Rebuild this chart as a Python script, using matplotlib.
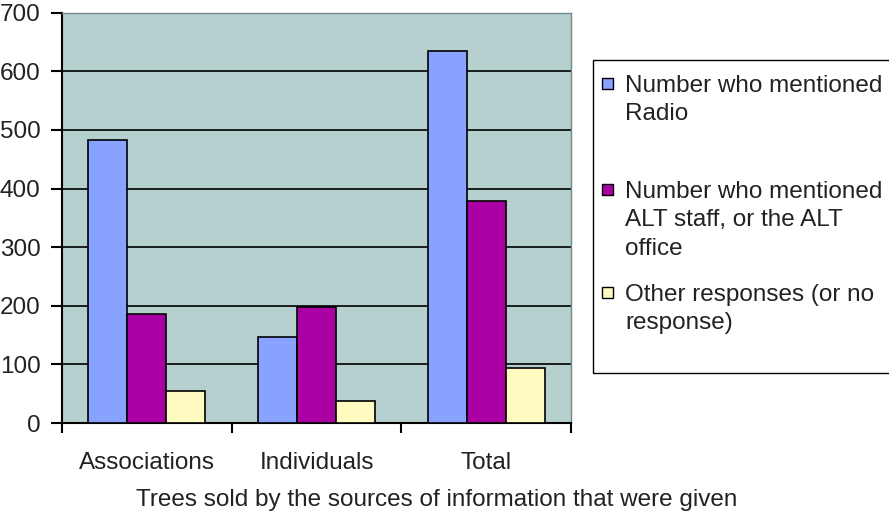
import matplotlib
matplotlib.use("Agg")
import matplotlib.pyplot as plt
from matplotlib.patches import Rectangle
import numpy as np

categories = ["Associations", "Individuals", "Total"]
series_names = ["Number who mentioned\nRadio",
                "Number who mentioned\nALT staff, or the ALT\noffice",
                "Other responses (or no\nresponse)"]
radio = [483, 147, 634]
alt_staff = [186, 198, 378]
other = [55, 37, 93]
yticks = [0, 100, 200, 300, 400, 500, 600, 700]
xlabel = "Trees sold by the sources of information that were given"

colors = ["#87A3FF", "#AA00A3", "#FFFABF"]
series = [radio, alt_staff, other]

plt.rcParams['font.family'] = ['Liberation Sans', 'DejaVu Sans']
FS = 17.5
TC = "#222222"

fig = plt.figure(figsize=(8.89, 5.11), dpi=100)
ax = fig.add_axes([62/889, 1-423/511, (571-62)/889, (423-12.7)/511])
ax.set_facecolor("#B6CFCF")

x = np.arange(len(categories))
w = 0.23
for i, (vals, c) in enumerate(zip(series, colors)):
    ax.bar(x + (i-1)*w, vals, width=w, color=c, edgecolor="black",
           linewidth=1.2, zorder=3)

ax.set_xlim(-0.5, len(categories)-0.5)
ax.set_ylim(0, 700)
ax.set_yticks(yticks)
ax.set_yticklabels([str(v) for v in yticks], fontsize=FS, color=TC)
ax.yaxis.grid(True, color="black", linewidth=1.2, zorder=1)
ax.set_axisbelow(True)

ax.set_xticks(np.arange(len(categories)+1) - 0.5)
ax.set_xticklabels([])
ax.set_xticks(x, minor=True)
ax.set_xticklabels(categories, minor=True, fontsize=FS, color=TC)
ax.tick_params(axis='x', which='minor', length=0, pad=21)
ax.tick_params(axis='x', which='major', length=7, width=1.5, direction='out')
ax.tick_params(axis='y', length=8, width=1.5, pad=7.5, direction='out')

for s in ['left', 'bottom']:
    ax.spines[s].set_color('black')
    ax.spines[s].set_linewidth(1.5)
for s in ['top', 'right']:
    ax.spines[s].set_color('#6E8A8A')
    ax.spines[s].set_linewidth(1.0)

fig.text(437/889, 1-506/511, xlabel, fontsize=FS, ha='center', va='baseline',
         color=TC)

# legend
fig.patches.append(Rectangle((593/889, 1-373/511), 320/889, (373-60)/511,
                             transform=fig.transFigure, facecolor='white',
                             edgecolor='black', linewidth=1.0))
baselines = [92, 198, 301]
for name, c, b in zip(series_names, colors, baselines):
    fig.patches.append(Rectangle((602/889, 1-(b-3)/511), 11/889, 11/511,
                                 transform=fig.transFigure, facecolor=c,
                                 edgecolor='black', linewidth=1.0))
    fig.text(625/889, 1-(b-17.5)/511, name, fontsize=FS, ha='left', va='top',
             linespacing=1.4, color=TC)

fig.savefig("out.png", dpi=100)
